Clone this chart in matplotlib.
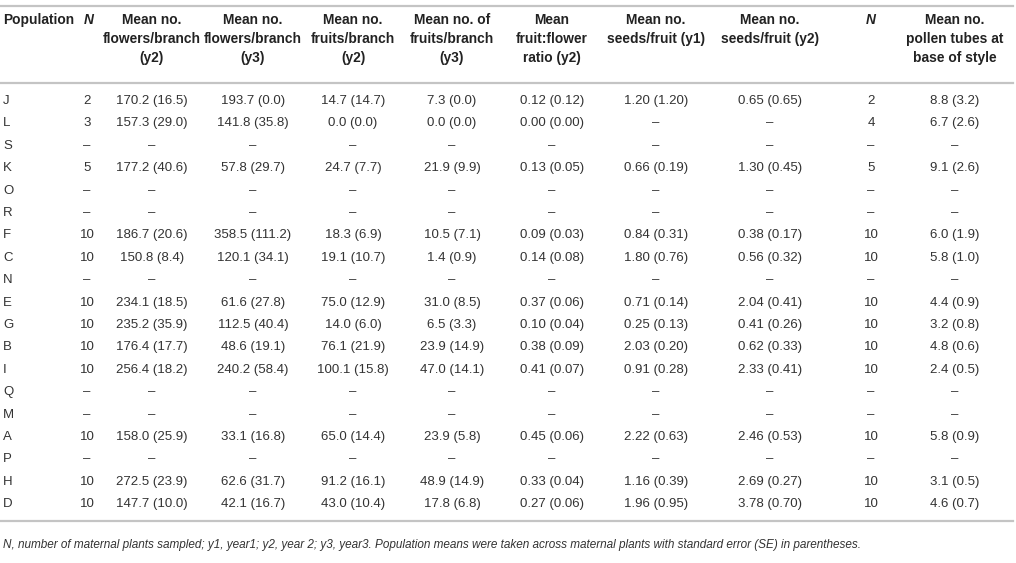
import matplotlib.pyplot as plt

plt.rcParams['font.family'] = ['Liberation Sans', 'DejaVu Sans']

populations = ['J', 'L', 'S', 'K', 'O', 'R', 'F', 'C', 'N', 'E', 'G', 'B', 'I', 'Q', 'M', 'A', 'P', 'H', 'D']
n_plants = ['2', '3', '–', '5', '–', '–', '10', '10', '–', '10', '10', '10', '10', '–', '–', '10', '–', '10', '10']
flowers_y2 = ['170.2 (16.5)', '157.3 (29.0)', '–', '177.2 (40.6)', '–', '–', '186.7 (20.6)', '150.8 (8.4)', '–',
              '234.1 (18.5)', '235.2 (35.9)', '176.4 (17.7)', '256.4 (18.2)', '–', '–', '158.0 (25.9)', '–',
              '272.5 (23.9)', '147.7 (10.0)']
flowers_y3 = ['193.7 (0.0)', '141.8 (35.8)', '–', '57.8 (29.7)', '–', '–', '358.5 (111.2)', '120.1 (34.1)', '–',
              '61.6 (27.8)', '112.5 (40.4)', '48.6 (19.1)', '240.2 (58.4)', '–', '–', '33.1 (16.8)', '–',
              '62.6 (31.7)', '42.1 (16.7)']
fruits_y2 = ['14.7 (14.7)', '0.0 (0.0)', '–', '24.7 (7.7)', '–', '–', '18.3 (6.9)', '19.1 (10.7)', '–',
             '75.0 (12.9)', '14.0 (6.0)', '76.1 (21.9)', '100.1 (15.8)', '–', '–', '65.0 (14.4)', '–',
             '91.2 (16.1)', '43.0 (10.4)']
fruits_y3 = ['7.3 (0.0)', '0.0 (0.0)', '–', '21.9 (9.9)', '–', '–', '10.5 (7.1)', '1.4 (0.9)', '–',
             '31.0 (8.5)', '6.5 (3.3)', '23.9 (14.9)', '47.0 (14.1)', '–', '–', '23.9 (5.8)', '–',
             '48.9 (14.9)', '17.8 (6.8)']
ratio_y2 = ['0.12 (0.12)', '0.00 (0.00)', '–', '0.13 (0.05)', '–', '–', '0.09 (0.03)', '0.14 (0.08)', '–',
            '0.37 (0.06)', '0.10 (0.04)', '0.38 (0.09)', '0.41 (0.07)', '–', '–', '0.45 (0.06)', '–',
            '0.33 (0.04)', '0.27 (0.06)']
seeds_y1 = ['1.20 (1.20)', '–', '–', '0.66 (0.19)', '–', '–', '0.84 (0.31)', '1.80 (0.76)', '–',
            '0.71 (0.14)', '0.25 (0.13)', '2.03 (0.20)', '0.91 (0.28)', '–', '–', '2.22 (0.63)', '–',
            '1.16 (0.39)', '1.96 (0.95)']
seeds_y2 = ['0.65 (0.65)', '–', '–', '1.30 (0.45)', '–', '–', '0.38 (0.17)', '0.56 (0.32)', '–',
            '2.04 (0.41)', '0.41 (0.26)', '0.62 (0.33)', '2.33 (0.41)', '–', '–', '2.46 (0.53)', '–',
            '2.69 (0.27)', '3.78 (0.70)']
n_pollen = ['2', '4', '–', '5', '–', '–', '10', '10', '–', '10', '10', '10', '10', '–', '–', '10', '–', '10', '10']
pollen_tubes = ['8.8 (3.2)', '6.7 (2.6)', '–', '9.1 (2.6)', '–', '–', '6.0 (1.9)', '5.8 (1.0)', '–',
                '4.4 (0.9)', '3.2 (0.8)', '4.8 (0.6)', '2.4 (0.5)', '–', '–', '5.8 (0.9)', '–',
                '3.1 (0.5)', '4.6 (0.7)']

headers = ['Population', 'N', 'Mean no.\nflowers/branch\n(y2)', 'Mean no.\nflowers/branch\n(y3)',
           'Mean no.\nfruits/branch\n(y2)', 'Mean no. of\nfruits/branch\n(y3)', 'Mean\nfruit:flower\nratio (y2)',
           'Mean no.\nseeds/fruit (y1)', 'Mean no.\nseeds/fruit (y2)', 'N',
           'Mean no.\npollen tubes at\nbase of style']
footnote = ('N, number of maternal plants sampled; y1, year1; y2, year 2; y3, year3. '
            'Population means were taken across maternal plants with standard error (SE) in parentheses.')

columns = [populations, n_plants, flowers_y2, flowers_y3, fruits_y2, fruits_y3,
           ratio_y2, seeds_y1, seeds_y2, n_pollen, pollen_tubes]

# layout in pixel coordinates
col_x = [3, 87, 152, 253, 353, 452, 552, 656, 770, 871, 955]
head_x = [3, 89, 152, 253, 353, 452, 552, 656, 770, 871, 955]
row_y0, row_dy = 101, 22.4
text_col = '#333333'
fs = 9.5
fs_head = 9.9

fig = plt.figure(figsize=(10.16, 5.63), dpi=100)
ax = fig.add_axes([0, 0, 1, 1])
ax.set_xlim(0, 1016)
ax.set_ylim(563, 0)
ax.axis('off')

rule = dict(color='#c4c4c4', lw=1.6)
ax.plot([0, 1013], [6, 6], **rule)
ax.plot([0, 1013], [83, 83], **rule)
ax.plot([0, 1013], [521, 521], **rule)

for j, (h, x) in enumerate(zip(headers, head_x)):
    ha = 'left' if j == 0 else 'center'
    style = 'italic' if h == 'N' else 'normal'
    ax.text(x, 13, h, ha=ha, va='top', fontsize=fs_head, fontweight='bold', style=style,
            color='#222222', linespacing=1.45, multialignment='center')

for j, (col, x) in enumerate(zip(columns, col_x)):
    ha = 'left' if j == 0 else 'center'
    for i, v in enumerate(col):
        ax.text(x, row_y0 + i * row_dy, v, ha=ha, va='center', fontsize=fs, color=text_col)

ax.text(3, 545, footnote, ha='left', va='center', fontsize=8.45, style='italic', color=text_col)

fig.savefig('out.png', dpi=100)
